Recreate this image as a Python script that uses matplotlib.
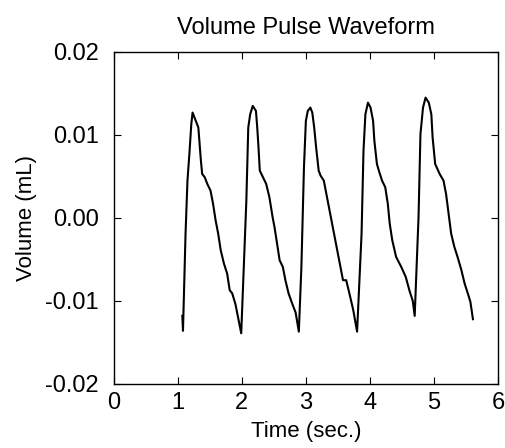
import matplotlib
matplotlib.use('Agg')
import matplotlib.pyplot as plt

plt.rcParams['font.family'] = ['Liberation Sans', 'DejaVu Sans']

# Traced waveform (time in sec, volume in mL)
time_s = [1.07, 1.08, 1.12, 1.15, 1.18, 1.21, 1.23, 1.28, 1.32, 1.34, 1.36, 1.38,
          1.42, 1.46, 1.51, 1.55, 1.59, 1.63, 1.67, 1.72, 1.77, 1.81, 1.85, 1.90, 1.99,
          2.07, 2.10, 2.13, 2.17, 2.22, 2.24, 2.26, 2.28, 2.33, 2.38, 2.43, 2.48,
          2.51, 2.55, 2.59, 2.64, 2.68, 2.73, 2.79, 2.84, 2.89,
          2.93, 2.97, 3.00, 3.03, 3.07, 3.10, 3.13, 3.16, 3.20, 3.23, 3.28, 3.32,
          3.37, 3.42, 3.48, 3.53, 3.58, 3.63, 3.68, 3.74, 3.80,
          3.87, 3.90, 3.93, 3.97, 4.01, 4.05, 4.07, 4.11, 4.14, 4.19, 4.24, 4.28,
          4.31, 4.35, 4.41, 4.49, 4.56, 4.62, 4.67, 4.70,
          4.76, 4.79, 4.83, 4.87, 4.92, 4.96, 4.98, 5.02, 5.09, 5.15, 5.19, 5.23,
          5.27, 5.32, 5.37, 5.43, 5.48, 5.53, 5.57, 5.61]
volume_ml = [-0.0118, -0.0136, -0.0019, 0.0045, 0.0077, 0.0113, 0.0127, 0.0117, 0.0109, 0.0089,
             0.0069, 0.0053, 0.0049, 0.0041, 0.0033, 0.0017, -0.0003, -0.0019, -0.0039, -0.0055,
             -0.0067, -0.0087, -0.0091, -0.0104, -0.0139,
             0.0021, 0.0109, 0.0125, 0.0135, 0.0129, 0.0109, 0.0085, 0.0057, 0.0049, 0.0041,
             0.0025, 0.0001, -0.0011, -0.0031, -0.0051, -0.0059, -0.0075, -0.0091, -0.0104,
             -0.0114, -0.0137,
             -0.0059, 0.0061, 0.0117, 0.0129, 0.0133, 0.0127, 0.0109, 0.0085, 0.0057, 0.0051,
             0.0045, 0.0029, 0.0009, -0.0011, -0.0035, -0.0055, -0.0075, -0.0075, -0.0091,
             -0.0111, -0.0137,
             -0.0019, 0.0081, 0.0125, 0.0139, 0.0133, 0.0117, 0.0093, 0.0065, 0.0057, 0.0045,
             0.0037, 0.0017, -0.0007, -0.0027, -0.0047, -0.0059, -0.0071, -0.0088, -0.0100,
             -0.0118,
             0.0001, 0.0101, 0.0133, 0.0145, 0.0139, 0.0125, 0.0097, 0.0065, 0.0053, 0.0045,
             0.0029, 0.0005, -0.0019, -0.0035, -0.0047, -0.0063, -0.0079, -0.0091, -0.0101,
             -0.0122]

x_ticks = [0, 1, 2, 3, 4, 5, 6]
y_ticks = [-0.02, -0.01, 0.0, 0.01, 0.02]
y_labels = ['-0.02', '-0.01', '0.00', '0.01', '0.02']

fig = plt.figure(figsize=(5.06, 4.48), dpi=100)
ax = fig.add_axes([0.225, 0.143, 0.759, 0.741])
ax.plot(time_s, volume_ml, color='black', linewidth=1.5)

ax.set_xlim(0, 6)
ax.set_ylim(-0.02, 0.02)
ax.set_xticks(x_ticks)
ax.set_yticks(y_ticks)
ax.set_yticklabels(y_labels)
ax.tick_params(direction='in', top=True, right=True, length=5, labelsize=17)
ax.tick_params(axis='y', pad=11)
ax.tick_params(axis='x', pad=6)
for s in ax.spines.values():
    s.set_linewidth(1.0)

ax.set_title('Volume Pulse Waveform', fontsize=17, pad=13)
ax.set_xlabel('Time (sec.)', fontsize=16, labelpad=5)
ax.set_ylabel('Volume (mL)', fontsize=16, labelpad=6)

fig.savefig('out.png', dpi=100)
